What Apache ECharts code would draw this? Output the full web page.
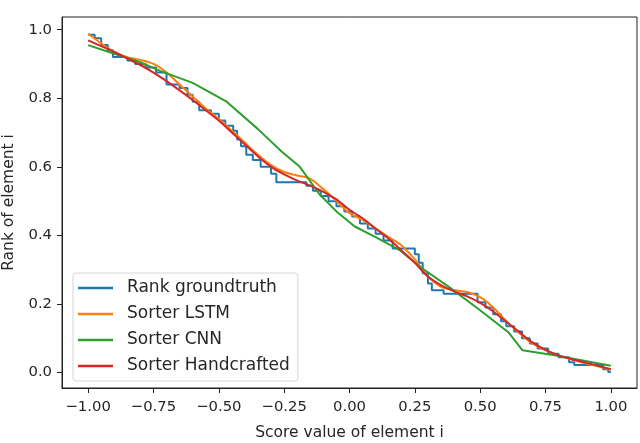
<!DOCTYPE html>
<html>
<head>
<meta charset="utf-8">
<script src="https://cdn.jsdelivr.net/npm/echarts@6/dist/echarts.min.js"></script>
<style>
  html, body { margin: 0; padding: 0; background: #fff; }
  #chart { width: 640px; height: 443px; }
</style>
</head>
<body>
<div id="chart"></div>
<script>
// rank groundtruth: start of each flat step and its value
var truthX = [-1.0, -0.975, -0.95, -0.925, -0.905, -0.85, -0.82, -0.78, -0.74, -0.70, -0.65, -0.62, -0.60, -0.575,
  -0.53, -0.50, -0.475, -0.445, -0.43, -0.415, -0.395, -0.37, -0.34, -0.30, -0.28, -0.165, -0.14, -0.11, -0.08,
  -0.05, -0.02, 0.01, 0.04, 0.07, 0.10, 0.13, 0.165, 0.25, 0.265, 0.28, 0.30, 0.315, 0.36, 0.49, 0.52, 0.55,
  0.58, 0.60, 0.63, 0.66, 0.69, 0.72, 0.76, 0.80, 0.84, 0.86, 0.97, 0.99, 1.0];
var truthY = [0.985, 0.975, 0.955, 0.94, 0.92, 0.91, 0.90, 0.89, 0.875, 0.84, 0.83, 0.81, 0.79, 0.765,
  0.755, 0.735, 0.72, 0.705, 0.68, 0.66, 0.635, 0.62, 0.60, 0.58, 0.555, 0.545, 0.53, 0.515, 0.50,
  0.485, 0.47, 0.455, 0.435, 0.42, 0.405, 0.385, 0.362, 0.345, 0.32, 0.29, 0.26, 0.24, 0.23, 0.205, 0.19, 0.17,
  0.15, 0.135, 0.12, 0.10, 0.085, 0.07, 0.055, 0.045, 0.03, 0.022, 0.01, 0.002, 0.002];

var smoothX = [-1.0, -0.95, -0.9, -0.85, -0.8, -0.75, -0.7, -0.65, -0.6, -0.55, -0.5, -0.45, -0.4, -0.35, -0.3,
  -0.25, -0.2, -0.15, -0.1, -0.05, 0.0, 0.05, 0.1, 0.15, 0.2, 0.25, 0.3, 0.35, 0.4, 0.45, 0.5, 0.55, 0.6,
  0.65, 0.7, 0.75, 0.8, 0.85, 0.9, 0.95, 1.0];
var lstmY = [0.988, 0.96, 0.935, 0.92, 0.912, 0.9, 0.875, 0.84, 0.805, 0.77, 0.74, 0.705, 0.67, 0.635, 0.605,
  0.585, 0.575, 0.565, 0.535, 0.50, 0.465, 0.445, 0.42, 0.395, 0.37, 0.33, 0.28, 0.25, 0.24, 0.235, 0.22, 0.19, 0.15,
  0.115, 0.085, 0.065, 0.05, 0.038, 0.028, 0.018, 0.008];
var handY = [0.969, 0.952, 0.935, 0.916, 0.897, 0.875, 0.85, 0.823, 0.795, 0.765, 0.735, 0.70, 0.665, 0.63, 0.60,
  0.578, 0.56, 0.545, 0.527, 0.505, 0.475, 0.45, 0.42, 0.39, 0.355, 0.32, 0.28, 0.255, 0.237, 0.222, 0.203, 0.178, 0.148,
  0.118, 0.088, 0.066, 0.05, 0.039, 0.03, 0.02, 0.01];

var cnnX = [-1.0, -0.9, -0.8, -0.725, -0.6, -0.47, -0.35, -0.26, -0.19, -0.115, -0.05, 0.02, 0.1, 0.19, 0.267,
  0.38, 0.496, 0.61, 0.662, 0.79, 1.0];
var cnnY = [0.955, 0.93, 0.905, 0.88, 0.845, 0.79, 0.71, 0.645, 0.60, 0.52, 0.47, 0.426, 0.395, 0.358, 0.31,
  0.25, 0.184, 0.116, 0.065, 0.05, 0.02];

var xTicks = [-1.0, -0.75, -0.5, -0.25, 0.0, 0.25, 0.5, 0.75, 1.0];
var yTicks = [0.0, 0.2, 0.4, 0.6, 0.8, 1.0];

function pairs(xs, ys) {
  return xs.map(function (x, i) { return [x, ys[i]]; });
}
function minus(s) { return s.replace('-', '\u2212'); }

var font = 'DejaVu Sans';
var txt = '#262626';

var chart = echarts.init(document.getElementById('chart'));
chart.setOption({
  animation: false,
  backgroundColor: '#fff',
  grid: {
    left: 62, right: 3, top: 17, bottom: 55,
    outerBoundsMode: 'none', containLabel: false,
    show: true, borderColor: '#222', borderWidth: 1, backgroundColor: 'transparent'
  },
  legend: {
    orient: 'vertical',
    left: 73, top: 273,
    padding: [5, 8, 5, 5],
    itemWidth: 35, itemHeight: 2.5, itemGap: 6,
    icon: 'rect',
    backgroundColor: '#fff',
    borderColor: '#d6d6d6', borderWidth: 1, borderRadius: 3,
    textStyle: { fontFamily: font, fontSize: 17, color: txt, lineHeight: 20, padding: [0, 0, 0, 9] },
    data: ['Rank groundtruth', 'Sorter LSTM', 'Sorter CNN', 'Sorter Handcrafted']
  },
  xAxis: {
    type: 'value', min: -1.1, max: 1.1,
    name: 'Score value of element i', nameLocation: 'middle', nameGap: 37,
    nameTextStyle: { fontFamily: font, fontSize: 15.5, color: txt },
    axisLine: { show: true, onZero: false, lineStyle: { color: '#222', width: 1 } },
    axisTick: { show: true, length: 5, customValues: xTicks, lineStyle: { color: '#222' } },
    axisLabel: {
      customValues: xTicks, margin: 12, fontFamily: font, fontSize: 14.8, color: txt,
      formatter: function (v) { return minus(v.toFixed(2)); }
    },
    splitLine: { show: false }
  },
  yAxis: {
    type: 'value', min: -0.045, max: 1.037,
    name: 'Rank of element i', nameLocation: 'middle', nameGap: 45, nameRotate: 90,
    nameTextStyle: { fontFamily: font, fontSize: 15.5, color: txt },
    axisLine: { show: true, onZero: false, lineStyle: { color: '#222', width: 1 } },
    axisTick: { show: true, length: 5, customValues: yTicks, lineStyle: { color: '#222' } },
    axisLabel: {
      customValues: yTicks, margin: 10, fontFamily: font, fontSize: 14.8, color: txt,
      formatter: function (v) { return v.toFixed(1); }
    },
    splitLine: { show: false }
  },
  series: [
    { name: 'Rank groundtruth', type: 'line', step: 'end', showSymbol: false, color: '#1f77b4',
      lineStyle: { width: 2 }, data: pairs(truthX, truthY) },
    { name: 'Sorter LSTM', type: 'line', smooth: 0.3, showSymbol: false, color: '#ff7f0e',
      lineStyle: { width: 2 }, data: pairs(smoothX, lstmY) },
    { name: 'Sorter CNN', type: 'line', showSymbol: false, color: '#2ca02c',
      lineStyle: { width: 2 }, data: pairs(cnnX, cnnY) },
    { name: 'Sorter Handcrafted', type: 'line', smooth: 0.3, showSymbol: false, color: '#d62728',
      lineStyle: { width: 2 }, data: pairs(smoothX, handY) }
  ]
});
</script>
</body>
</html>
